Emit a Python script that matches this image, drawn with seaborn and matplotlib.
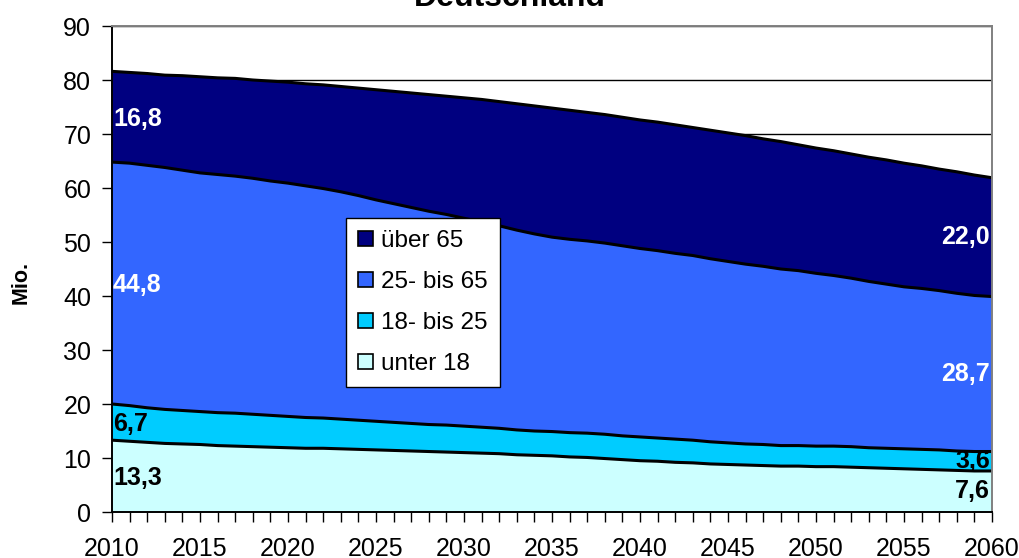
import numpy as np
import pandas as pd
import matplotlib
matplotlib.use("Agg")
import matplotlib.pyplot as plt
import seaborn as sns
from matplotlib.patches import Patch
from matplotlib.ticker import MultipleLocator

# ---------------- data (Mio.) ----------------
years = list(range(2010, 2061))

unter_18 = [13.3, 13.1, 12.9, 12.7, 12.6, 12.5, 12.3, 12.2, 12.1, 12.0,
            11.9, 11.8, 11.8, 11.7, 11.6, 11.5, 11.4, 11.3, 11.2, 11.1,
            11.0, 10.9, 10.8, 10.6, 10.5, 10.4, 10.2, 10.1, 9.9, 9.7,
            9.5, 9.4, 9.2, 9.1, 8.9, 8.8, 8.7, 8.6, 8.5, 8.5,
            8.4, 8.4, 8.3, 8.2, 8.1, 8.0, 7.9, 7.8, 7.7, 7.6, 7.6]

bis_25 = [6.7, 6.6, 6.4, 6.3, 6.2, 6.1, 6.1, 6.1, 6.0, 5.9,
          5.8, 5.7, 5.6, 5.5, 5.4, 5.3, 5.2, 5.1, 5.0, 5.0,
          4.9, 4.8, 4.7, 4.6, 4.5, 4.5, 4.5, 4.5, 4.5, 4.4,
          4.4, 4.3, 4.3, 4.2, 4.1, 4.0, 3.9, 3.9, 3.8, 3.8,
          3.8, 3.8, 3.8, 3.7, 3.7, 3.7, 3.7, 3.7, 3.6, 3.6, 3.6]

bis_65 = [44.8, 44.9, 44.9, 44.8, 44.5, 44.2, 44.1, 43.9, 43.7, 43.4,
          43.2, 42.9, 42.5, 42.1, 41.6, 41.0, 40.5, 40.0, 39.5, 39.0,
          38.5, 38.0, 37.5, 37.0, 36.5, 36.0, 35.8, 35.6, 35.4, 35.2,
          34.9, 34.7, 34.4, 34.2, 33.9, 33.6, 33.3, 33.0, 32.7, 32.4,
          32.0, 31.6, 31.2, 30.8, 30.4, 30.0, 29.8, 29.5, 29.2, 28.9, 28.7]

ueber_65 = [16.8, 16.8, 17.0, 17.1, 17.5, 17.8, 17.9, 18.1, 18.2, 18.5,
            18.7, 18.9, 19.2, 19.5, 19.9, 20.4, 20.8, 21.2, 21.6, 21.9,
            22.3, 22.7, 23.0, 23.4, 23.7, 23.9, 23.9, 23.8, 23.8, 23.8,
            23.8, 23.8, 23.8, 23.7, 23.8, 23.8, 23.8, 23.6, 23.6, 23.3,
            23.2, 23.1, 23.0, 23.0, 23.0, 22.9, 22.7, 22.5, 22.5, 22.3, 22.0]

series_names = ["unter 18", "18- bis 25", "25- bis 65", "über 65"]
series_colors = ["#CCFFFF", "#00CCFF", "#3366FF", "#000080"]
label_colors = ["black", "black", "white", "white"]

df = pd.DataFrame({"Jahr": years, "unter 18": unter_18, "18- bis 25": bis_25,
                   "25- bis 65": bis_65, "über 65": ueber_65})

# ---------------- style ----------------
sns.set_theme(style="white")
plt.rcParams["font.family"] = ["Liberation Sans", "DejaVu Sans"]
plt.rcParams["text.color"] = "black"
plt.rcParams["xtick.labelcolor"] = "black"
plt.rcParams["ytick.labelcolor"] = "black"

fig = plt.figure(figsize=(10.2, 5.58), dpi=100)
ax = fig.add_axes([112 / 1020, 1 - 512 / 558, 880 / 1020, 486 / 558])

# stacked areas
cum = np.zeros(len(years))
for name, col in zip(series_names, series_colors):
    lower = cum.copy()
    cum = cum + df[name].to_numpy()
    ax.fill_between(df["Jahr"], lower, cum, facecolor=col, edgecolor="none", zorder=2)
    sns.lineplot(x=df["Jahr"], y=cum, color="black", lw=2.2, ax=ax, zorder=3)

# value labels at both ends
def fmt(v):
    return f"{v:.1f}".replace(".", ",")

cum_first = 0.0
cum_last = 0.0
for name, lc in zip(series_names, label_colors):
    v0 = df[name].iloc[0]
    v1 = df[name].iloc[-1]
    ax.text(years[0] + 0.05, cum_first + v0 / 2 - 0.4, fmt(v0), ha="left", va="center",
            fontsize=18, fontweight="bold", color=lc, zorder=5)
    ax.text(years[-1] - 0.1, cum_last + v1 / 2, fmt(v1), ha="right", va="center",
            fontsize=18, fontweight="bold", color=lc, zorder=5)
    cum_first += v0
    cum_last += v1

# axes
ax.set_xlim(2010, 2060)
ax.set_ylim(0, 90)
ax.set_xticks(list(range(2010, 2061, 5)))
ax.xaxis.set_minor_locator(MultipleLocator(1))
ax.set_yticks(list(range(0, 91, 10)))
ax.yaxis.grid(True, color="black", lw=1.0, zorder=0)
ax.xaxis.grid(False)
ax.set_axisbelow(True)
ax.set_xlabel("")
ax.set_ylabel("")
ax.tick_params(axis="both", which="both", direction="out", length=7, width=1,
               color="black", bottom=True, left=True, labelcolor="black")
ax.tick_params(axis="x", which="major", labelsize=18, pad=11)
ax.tick_params(axis="y", which="major", labelsize=18, pad=8)

for s in ["left", "bottom"]:
    ax.spines[s].set_color("black")
    ax.spines[s].set_linewidth(1.4)
for s in ["top", "right"]:
    ax.spines[s].set_color("#808080")
    ax.spines[s].set_linewidth(1.4)
for s in ax.spines.values():
    s.set_zorder(6)

# legend
handles = [Patch(facecolor=c, edgecolor="black", lw=1.2)
           for c in reversed(series_colors)]
leg = ax.legend(handles, list(reversed(series_names)), loc="upper left",
                bbox_to_anchor=(234 / 880, (512 - 218) / 486), fontsize=17.5,
                frameon=True, fancybox=False, edgecolor="black", framealpha=1,
                handlelength=0.6, handleheight=0.6, handletextpad=0.35,
                labelspacing=0.78, borderpad=0.5, borderaxespad=0,
                labelcolor="black")
leg.get_frame().set_linewidth(1.0)
leg.set_zorder(7)

fig.text(0.5, 1 - 6 / 558, "Deutschland", ha="center", va="baseline",
         fontsize=23, fontweight="bold", color="black")
fig.text(21 / 1020, 1 - 282 / 558, "Mio.", rotation=90, ha="center", va="center",
         fontsize=15.5, fontweight="bold", color="black")

fig.savefig("out.png", dpi=100, facecolor="white")
